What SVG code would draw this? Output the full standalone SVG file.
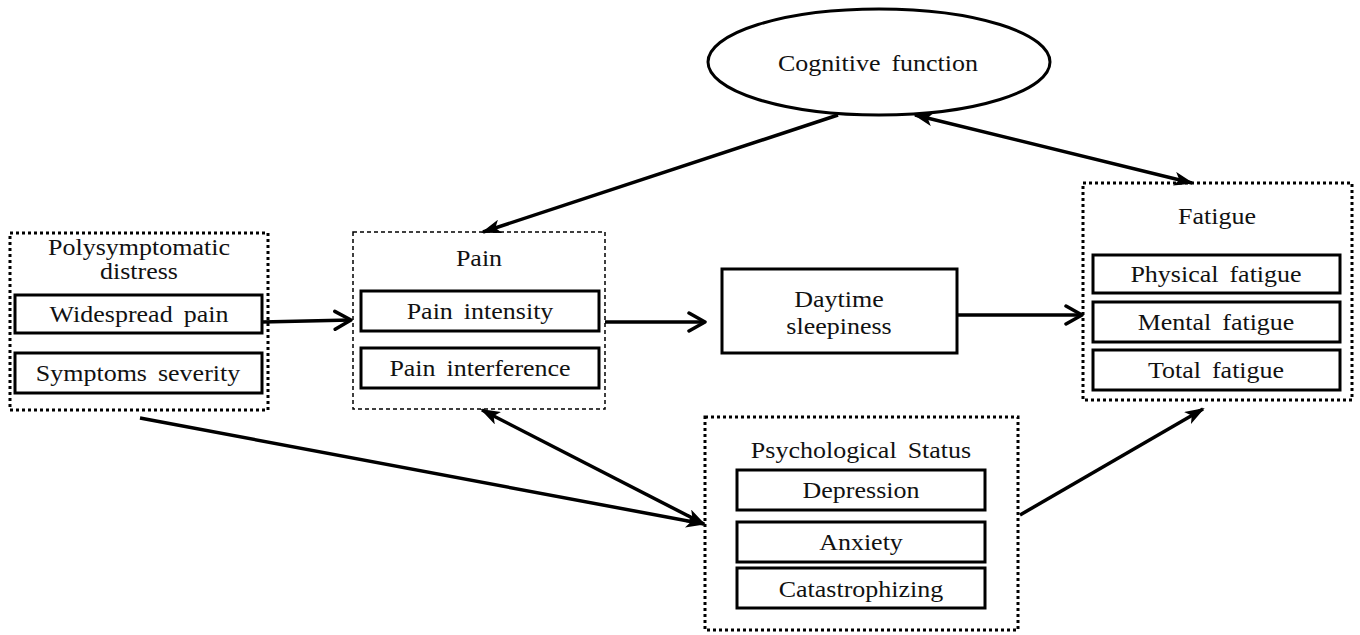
<svg xmlns="http://www.w3.org/2000/svg" width="1360" height="635" viewBox="0 0 1360 635" font-family="Liberation Serif, DejaVu Serif, serif">
<style>
text{font-family:'Liberation Serif','Times New Roman',serif;font-size:23px;fill:#111;text-anchor:middle;word-spacing:4px}
.box{fill:#fff;stroke:#000;stroke-width:3}
.dot{fill:none;stroke:#000;stroke-width:3;stroke-dasharray:3 3}
.dash{fill:none;stroke:#000;stroke-width:1.5;stroke-dasharray:4 3}
.c{stroke:#000;stroke-width:3.5;fill:none}
</style>
<defs>
<marker id="tri" viewBox="0 0 20 14" refX="18" refY="7" markerWidth="20" markerHeight="14" markerUnits="userSpaceOnUse" orient="auto-start-reverse">
<path d="M0,0 L20,7 L0,14 L5,7 Z" fill="#000"/>
</marker>
<marker id="chev" viewBox="0 0 22 22" refX="19" refY="11" markerWidth="22" markerHeight="22" markerUnits="userSpaceOnUse" orient="auto">
<path d="M3,2 L19,11 L3,20" fill="none" stroke="#000" stroke-width="3.5" stroke-linecap="round" stroke-linejoin="round"/>
</marker>
</defs>
<g id="cognitive">
<ellipse cx="879" cy="62" rx="171" ry="53" fill="#fff" stroke="#000" stroke-width="3"/>
<text transform="translate(878,71) scale(1.13,1)">Cognitive function</text>
</g>
<g id="polysymptomatic">
<rect class="dot" x="10" y="233" width="258" height="177"/>
<text transform="translate(139,255) scale(1.13,1)">Polysymptomatic</text>
<text transform="translate(139,279) scale(1.13,1)">distress</text>
<rect class="box" x="15" y="295" width="247" height="38"/>
<text transform="translate(139,322) scale(1.13,1)">Widespread pain</text>
<rect class="box" x="15" y="353" width="247" height="40"/>
<text transform="translate(138,381) scale(1.13,1)">Symptoms severity</text>
</g>
<g id="pain">
<rect class="dash" x="353" y="232" width="252" height="177"/>
<text transform="translate(479,266) scale(1.13,1)">Pain</text>
<rect class="box" x="361" y="291" width="238" height="40"/>
<text transform="translate(480,319) scale(1.13,1)">Pain intensity</text>
<rect class="box" x="361" y="348" width="238" height="40"/>
<text transform="translate(480,376) scale(1.13,1)">Pain interference</text>
</g>
<g id="daytime">
<rect class="box" x="722" y="269" width="235" height="84"/>
<text transform="translate(839,307) scale(1.13,1)">Daytime</text>
<text transform="translate(839,334) scale(1.13,1)">sleepiness</text>
</g>
<g id="fatigue">
<rect class="dot" x="1083" y="183" width="269" height="217"/>
<text transform="translate(1217,224) scale(1.13,1)">Fatigue</text>
<rect class="box" x="1093" y="255" width="247" height="38"/>
<text transform="translate(1216,282) scale(1.13,1)">Physical fatigue</text>
<rect class="box" x="1093" y="302" width="247" height="40"/>
<text transform="translate(1216,330) scale(1.13,1)">Mental fatigue</text>
<rect class="box" x="1093" y="350" width="247" height="40"/>
<text transform="translate(1216,378) scale(1.13,1)">Total fatigue</text>
</g>
<g id="psychological">
<rect class="dot" x="705" y="417" width="313" height="213"/>
<text transform="translate(861,458) scale(1.13,1)">Psychological Status</text>
<rect class="box" x="737" y="470" width="248" height="40"/>
<text transform="translate(861,498) scale(1.13,1)">Depression</text>
<rect class="box" x="737" y="522" width="248" height="40"/>
<text transform="translate(861,550) scale(1.13,1)">Anxiety</text>
<rect class="box" x="737" y="568" width="248" height="40"/>
<text transform="translate(861,597) scale(1.13,1)">Catastrophizing</text>
</g>
<g id="connectors">
<line class="c" x1="262" y1="322" x2="351" y2="320" marker-end="url(#chev)"/>
<line class="c" x1="605" y1="322" x2="705" y2="322" marker-end="url(#chev)"/>
<line class="c" x1="957" y1="315" x2="1082" y2="315" marker-end="url(#chev)"/>
<line class="c" x1="838" y1="115" x2="483" y2="232" marker-end="url(#tri)"/>
<line class="c" x1="915" y1="115" x2="1192" y2="183" marker-start="url(#tri)" marker-end="url(#tri)"/>
<line class="c" x1="482" y1="410" x2="704" y2="524" marker-start="url(#tri)" marker-end="url(#tri)"/>
<line class="c" x1="140" y1="418" x2="704" y2="524" marker-end="url(#tri)"/>
<line class="c" x1="1020" y1="515" x2="1203" y2="409" marker-end="url(#tri)"/>
</g>
</svg>
